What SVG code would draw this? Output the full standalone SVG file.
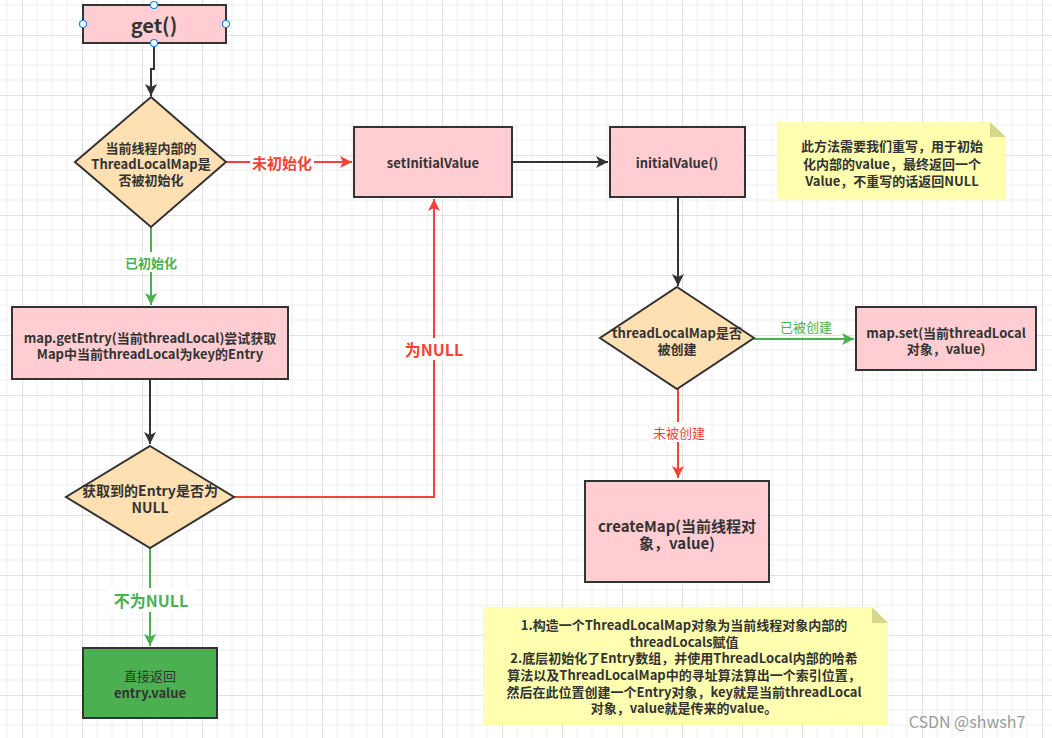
<svg xmlns="http://www.w3.org/2000/svg" width="1052" height="738" viewBox="0 0 1052 738">
<defs>
  <pattern id="grid" x="22" y="35" width="60" height="60" patternUnits="userSpaceOnUse">
    <path d="M15 0V60M30 0V60M45 0V60M0 15H60M0 30H60M0 45H60" stroke="#efefef" stroke-width="1" fill="none"/>
    <path d="M0.5 0V60M0 0.5H60" stroke="#e0e0e0" stroke-width="1" fill="none"/>
  </pattern>
  <marker id="ab" viewBox="0 0 10 10" refX="10" refY="5" markerWidth="12" markerHeight="12" markerUnits="userSpaceOnUse" orient="auto">
    <path d="M0 0L10 5L0 10L2.5 5Z" fill="#333"/>
  </marker>
  <marker id="ar" viewBox="0 0 10 10" refX="10" refY="5" markerWidth="12" markerHeight="12" markerUnits="userSpaceOnUse" orient="auto">
    <path d="M0 0L10 5L0 10L2.5 5Z" fill="#f44336"/>
  </marker>
  <marker id="ag" viewBox="0 0 10 10" refX="10" refY="5" markerWidth="12" markerHeight="12" markerUnits="userSpaceOnUse" orient="auto">
    <path d="M0 0L10 5L0 10L2.5 5Z" fill="#4caf50"/>
  </marker>
</defs>
<style>
  text { font-family: "Noto Sans CJK SC", "Noto Sans", sans-serif; fill: #333; text-anchor: middle; dominant-baseline: central; font-weight: bold; font-size: 13px; }
  .s14 { font-size: 14px; }
  .s15 { font-size: 15px; }
  .s16 { font-size: 16px; }
  .s20 { font-size: 20px; }
  .n { font-weight: normal; }
  .box { fill: #ffcdd2; stroke: #333; stroke-width: 2; }
  .dia { fill: #ffe0b2; stroke: #333; stroke-width: 2; }
  .note { fill: #ffffb0; }
  .fold { fill: #d6d68c; }
  .cb { fill: none; stroke: #333; stroke-width: 2; }
  .cr { fill: none; stroke: #f44336; stroke-width: 2; }
  .cg { fill: none; stroke: #4caf50; stroke-width: 2; }
  text.lr { fill: #f44336; }
  text.lg { fill: #4caf50; }
  .bg { fill: #fff; }
  .h { fill: #fff; stroke: #1e88e5; stroke-width: 1.2; }
  text.wm { fill: #9a9a9a; font-weight: normal; font-size: 16px; }
</style>
<rect width="1052" height="738" fill="#fff"/>
<rect width="1052" height="738" fill="url(#grid)"/>

<g id="connectors">
  <path class="cb" d="M154 43V69H151V96" marker-end="url(#ab)"/>
  <path class="cr" d="M226 162H352" marker-end="url(#ar)"/>
  <rect class="bg" x="250" y="152" width="64" height="20"/>
  <text class="lr s15" x="282" y="162">未初始化</text>
  <path class="cb" d="M512 162H608" marker-end="url(#ab)"/>
  <path class="cb" d="M678 197V286" marker-end="url(#ab)"/>
  <path class="cg" d="M754 339H854" marker-end="url(#ag)"/>
  <text class="lg n" x="806" y="326">已被创建</text>
  <path class="cr" d="M678 389V478" marker-end="url(#ar)"/>
  <rect class="bg" x="650" y="422" width="56" height="20"/>
  <text class="lr n" x="679" y="432">未被创建</text>
  <path class="cg" d="M151 227V305" marker-end="url(#ag)"/>
  <rect class="bg" x="122" y="252" width="58" height="20"/>
  <text class="lg" x="151" y="262">已初始化</text>
  <path class="cb" d="M150 379V444" marker-end="url(#ab)"/>
  <path class="cr" d="M234 497H434V199" marker-end="url(#ar)"/>
  <rect class="bg" x="400" y="338" width="68" height="22"/>
  <text class="lr s16" x="434" y="349">为NULL</text>
  <path class="cg" d="M150 548V646" marker-end="url(#ag)"/>
  <rect class="bg" x="108" y="588" width="86" height="24"/>
  <text class="lg s16" x="151" y="600">不为NULL</text>
</g>

<g id="get">
  <rect class="box" x="83" y="5" width="143" height="38"/>
  <text class="s20" x="154" y="24">get()</text>
  <circle class="h" cx="154" cy="5" r="3.5"/>
  <circle class="h" cx="83" cy="24" r="3.5"/>
  <circle class="h" cx="226" cy="24" r="3.5"/>
  <circle class="h" cx="154" cy="43" r="3.5"/>
</g>

<g id="d-init">
  <polygon class="dia" points="151,97 226,162 151,227 75,162"/>
  <text x="151" y="147">当前线程内部的</text>
  <text x="151" y="163">ThreadLocalMap是</text>
  <text x="151" y="179">否被初始化</text>
</g>

<g id="setInitialValue">
  <rect class="box" x="354" y="127" width="158" height="70"/>
  <text x="433" y="162">setInitialValue</text>
</g>

<g id="initialValue">
  <rect class="box" x="610" y="127" width="135" height="70"/>
  <text x="677" y="162">initialValue()</text>
</g>

<g id="note1">
  <path class="note" d="M777 122H990L1006 137V200H777Z"/>
  <path class="fold" d="M990 122L1006 137H990Z"/>
  <text x="892" y="145">此方法需要我们重写，用于初始</text>
  <text x="892" y="163">化内部的value，最终返回一个</text>
  <text x="892" y="180">Value，不重写的话返回NULL</text>
</g>

<g id="d-created">
  <polygon class="dia" points="677,287 754,338 677,389 600,338"/>
  <text x="677" y="332">threadLocalMap是否</text>
  <text x="677" y="348">被创建</text>
</g>

<g id="mapset">
  <rect class="box" x="856" y="307" width="180" height="63"/>
  <text x="946" y="332">map.set(当前threadLocal</text>
  <text x="946" y="348">对象，value)</text>
</g>

<g id="createMap">
  <rect class="box" x="585" y="481" width="184" height="101"/>
  <text class="s15" x="677" y="525">createMap(当前线程对</text>
  <text class="s15" x="677" y="542">象，value)</text>
</g>

<g id="note2">
  <path class="note" d="M483 607H872L888 623V725H483Z"/>
  <path class="fold" d="M872 607L888 623H872Z"/>
  <text x="684" y="624">1.构造一个ThreadLocalMap对象为当前线程对象内部的</text>
  <text x="684" y="641">threadLocals赋值</text>
  <text x="684" y="657">2.底层初始化了Entry数组，并使用ThreadLocal内部的哈希</text>
  <text x="684" y="674">算法以及ThreadLocalMap中的寻址算法算出一个索引位置，</text>
  <text x="684" y="691">然后在此位置创建一个Entry对象，key就是当前threadLocal</text>
  <text x="684" y="707">对象，value就是传来的value。</text>
</g>

<g id="getEntry">
  <rect class="box" x="12" y="307" width="276" height="72"/>
  <text x="150" y="337">map.getEntry(当前threadLocal)尝试获取</text>
  <text x="150" y="353">Map中当前threadLocal为key的Entry</text>
</g>

<g id="d-null">
  <polygon class="dia" points="150,446 234,497 150,548 66,497"/>
  <text class="s14" x="150" y="490">获取到的Entry是否为</text>
  <text class="s14" x="150" y="507">NULL</text>
</g>

<g id="return">
  <rect x="83" y="648" width="134" height="70" fill="#4caf50" stroke="#333" stroke-width="2"/>
  <text class="n" x="150" y="675">直接返回</text>
  <text x="150" y="692">entry.value</text>
</g>

<text class="wm" x="967" y="721">CSDN @shwsh7</text>
</svg>
